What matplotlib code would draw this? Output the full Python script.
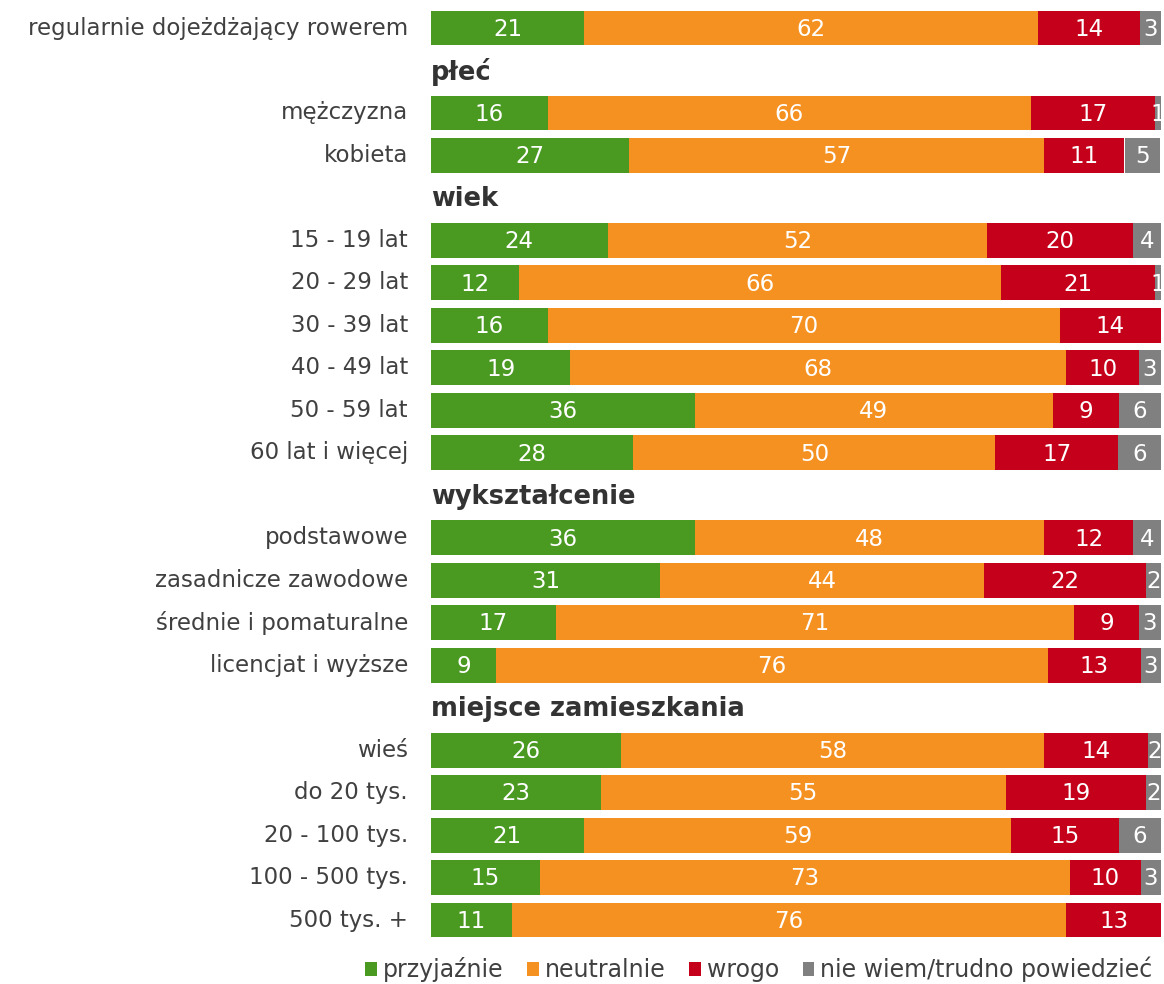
import matplotlib
matplotlib.use('Agg')
import matplotlib.pyplot as plt
from matplotlib.patches import Patch
from matplotlib.transforms import offset_copy

plt.rcParams['font.family'] = ['DejaVu Sans']

series_names = ['przyjaźnie', 'neutralnie', 'wrogo', 'nie wiem/trudno powiedzieć']
colors = ['#4A9A22', '#F59120', '#C5001A', '#808080']

group_titles = [None, 'płeć', 'wiek', 'wykształcenie', 'miejsce zamieszkania']
categories = ['regularnie dojeżdżający rowerem',
              'mężczyzna', 'kobieta',
              '15 - 19 lat', '20 - 29 lat', '30 - 39 lat', '40 - 49 lat', '50 - 59 lat', '60 lat i więcej',
              'podstawowe', 'zasadnicze zawodowe', 'średnie i pomaturalne', 'licencjat i wyższe',
              'wieś', 'do 20 tys.', '20 - 100 tys.', '100 - 500 tys.', '500 tys. +']
group_of = [0, 1, 1, 2, 2, 2, 2, 2, 2, 3, 3, 3, 3, 4, 4, 4, 4, 4]

przyjaznie = [21.0, 16.0, 27.1, 24.2, 12.1, 16.0, 19.1, 36.1, 27.7, 36.1, 31.4, 17.1, 8.9, 26.0, 23.3, 20.9, 14.9, 11.1]
neutralnie = [62.1, 66.2, 56.9, 52.0, 66.0, 70.1, 67.9, 49.1, 49.6, 47.9, 44.4, 71.0, 75.6, 58.0, 55.4, 58.6, 72.6, 75.9]
wrogo      = [14.0, 17.0, 11.0, 20.0, 21.1, 13.9, 10.0, 9.0, 16.8, 12.2, 22.2, 8.9, 12.7, 14.2, 19.3, 14.7, 9.7, 13.0]
nie_wiem   = [2.9, 0.8, 4.9, 3.8, 0.8, 0.0, 3.0, 5.8, 5.9, 3.8, 2.0, 3.0, 2.8, 1.8, 2.0, 5.8, 2.8, 0.0]

series = [przyjaznie, neutralnie, wrogo, nie_wiem]

W, H = 1164, 984
fig = plt.figure(figsize=(W / 100, H / 100), dpi=100)
slot = 42.48
n_slots = 22
top_px = 28 - slot / 2
ax = fig.add_axes([431 / W, 1 - (top_px + slot * n_slots) / H, 730 / W, slot * n_slots / H])
ax.set_xlim(0, 100)
ax.set_ylim(n_slots - 0.5, -0.5)
ax.axis('off')

# slot positions
cat_y = []
head_y = []
s = 0
prev = None
for g in group_of:
    if g != prev:
        if group_titles[g] is not None:
            head_y.append((group_titles[g], s))
            s += 1
        prev = g
    cat_y.append(s)
    s += 1

label_trans = offset_copy(ax.transData, fig=fig, x=-23, y=0, units='dots')
fs = 16.5
for name, y in zip(categories, cat_y):
    ax.text(0, y, name, ha='right', va='center', fontsize=fs, color='#404040',
            transform=label_trans, clip_on=False)
for title, y in head_y:
    ax.text(0, y + 0.03, title, ha='left', va='center', fontsize=18.5, fontweight='bold',
            color='#333333', clip_on=False)

left = [0.0] * len(categories)
for vals, col in zip(series, colors):
    ax.barh(cat_y, vals, left=left, height=0.82, color=col, linewidth=0)
    for y, v, l in zip(cat_y, vals, left):
        if v > 0:
            ax.text(l + v / 2, y + 0.03, f'{v:.0f}', ha='center', va='center',
                    fontsize=16.5, color='white', clip_on=True)
    left = [a + b for a, b in zip(left, vals)]

handles = [Patch(facecolor=c, edgecolor='none') for c in colors]
fig.legend(handles, series_names, loc='lower right', bbox_to_anchor=(1162 / W, -0.008),
           ncol=4, frameon=False, handlelength=0.5, handleheight=0.5,
           handletextpad=0.25, columnspacing=1.0, fontsize=17, labelcolor='#404040',
           borderaxespad=0.0)

fig.savefig('out.png', dpi=100)
